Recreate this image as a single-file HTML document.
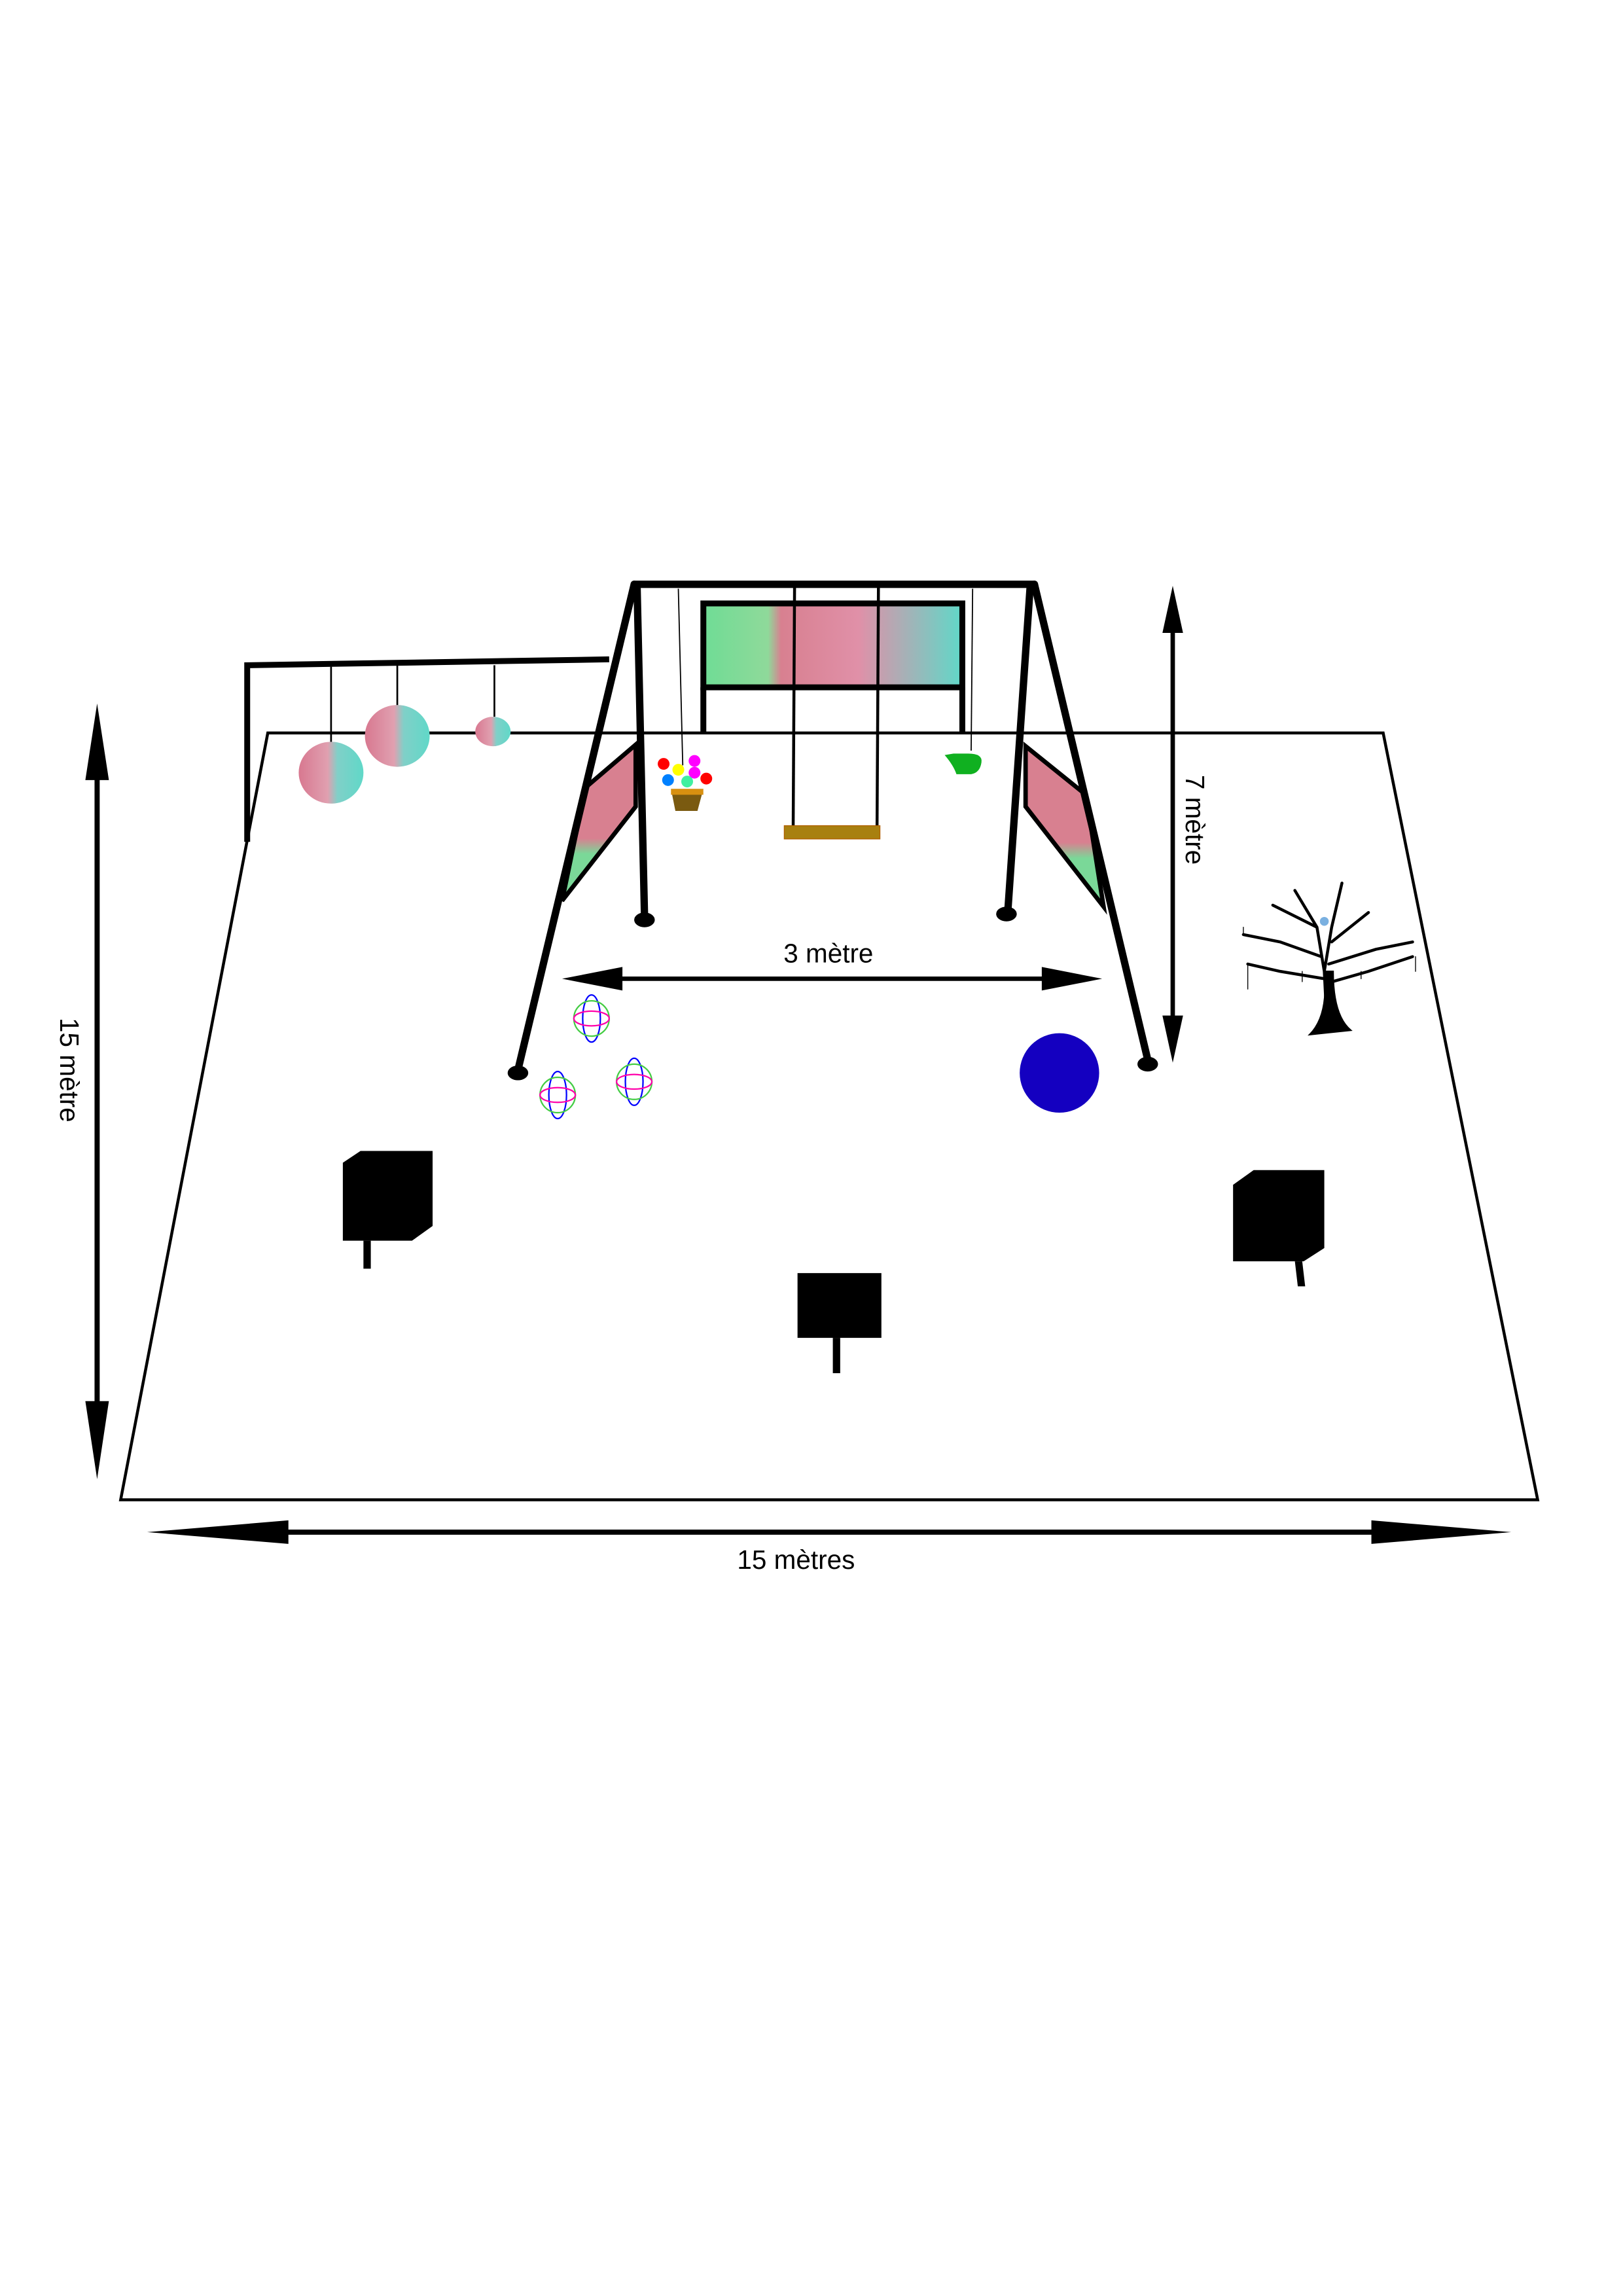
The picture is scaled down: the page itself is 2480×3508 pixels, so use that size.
<!DOCTYPE html>
<html><head><meta charset="utf-8"><style>html,body{margin:0;padding:0;background:#fff}svg{display:block}</style></head>
<body>
<svg width="2480" height="3508" viewBox="0 0 1103 1560" preserveAspectRatio="none" xmlns="http://www.w3.org/2000/svg" font-family="Liberation Sans, sans-serif">
<defs>
<linearGradient id="g1" x1="0" y1="0" x2="1" y2="0"><stop offset="0" stop-color="#6fdc95"/><stop offset="0.25" stop-color="#8fd99a"/><stop offset="0.3" stop-color="#d88090"/><stop offset="0.6" stop-color="#e090a8"/><stop offset="1" stop-color="#60d8c8"/></linearGradient>
<linearGradient id="g2" x1="0" y1="0" x2="1" y2="0"><stop offset="0" stop-color="#d87890"/><stop offset="0.45" stop-color="#e0a0b0"/><stop offset="0.6" stop-color="#80d0c8"/><stop offset="1" stop-color="#60d8c8"/></linearGradient>
<linearGradient id="g3" x1="0" y1="0" x2="0" y2="1"><stop offset="0" stop-color="#d88090"/><stop offset="0.6" stop-color="#d88090"/><stop offset="0.7" stop-color="#7ad898"/><stop offset="1" stop-color="#7ad898"/></linearGradient>
</defs>
<polygon points="182,498 940,498 1045,1019 82,1019" fill="none" stroke="#000" stroke-width="2"/>
<path d="M168,572 L168,452 L414,448" fill="none" stroke="#000" stroke-width="4"/>
<g stroke="#000" stroke-width="1.2"><line x1="225" y1="453" x2="225" y2="505"/><line x1="270" y1="452" x2="270" y2="480"/><line x1="336" y1="452" x2="336" y2="487"/></g>
<ellipse cx="225" cy="525" rx="22" ry="21" fill="url(#g2)"/>
<ellipse cx="270" cy="500" rx="22" ry="21" fill="url(#g2)"/>
<ellipse cx="335" cy="497" rx="12" ry="10" fill="url(#g2)"/>
<rect x="478" y="410" width="176" height="57" fill="url(#g1)" stroke="#000" stroke-width="4"/>
<line x1="478" y1="467" x2="478" y2="498" stroke="#000" stroke-width="4"/>
<line x1="654" y1="467" x2="654" y2="498" stroke="#000" stroke-width="4"/>
<polygon points="432,506 432,548 382,612 398,535" fill="url(#g3)" stroke="#000" stroke-width="3"/>
<polygon points="697,507 697,548 750,616 738,540" fill="url(#g3)" stroke="#000" stroke-width="3"/>
<g stroke="#000" stroke-width="5" stroke-linecap="round" fill="none">
<line x1="431" y1="397" x2="703" y2="397"/>
<line x1="431" y1="397" x2="352" y2="727"/>
<line x1="433" y1="400" x2="438" y2="622"/>
<line x1="700" y1="400" x2="685" y2="618"/>
<line x1="703" y1="397" x2="780" y2="720"/>
</g>
<g fill="#000"><ellipse cx="352" cy="729" rx="7" ry="5"/><ellipse cx="438" cy="625" rx="7" ry="5"/><ellipse cx="684" cy="621" rx="7" ry="5"/><ellipse cx="780" cy="723" rx="7" ry="5"/></g>
<g stroke="#000" stroke-width="2"><line x1="540" y1="397" x2="539" y2="570"/><line x1="597" y1="397" x2="596" y2="570"/></g>
<g stroke="#000" stroke-width="0.8"><line x1="461" y1="400" x2="464" y2="520"/><line x1="661" y1="400" x2="660" y2="510"/></g>
<rect x="533" y="561" width="65" height="9" fill="#a88010" stroke="#b06000" stroke-width="0.6"/>
<polygon points="456,536 478,536 474,551 459,551" fill="#7a5a10"/><rect x="456" y="536" width="22" height="4" fill="#d89010"/>
<circle cx="451" cy="519" r="4" fill="#f00"/><circle cx="461" cy="523" r="4" fill="#ff0"/><circle cx="472" cy="517" r="4" fill="#f0f"/><circle cx="472" cy="525" r="4" fill="#f0f"/><circle cx="480" cy="529" r="4" fill="#f00"/><circle cx="454" cy="530" r="4" fill="#0080ff"/><circle cx="467" cy="531" r="4" fill="#40f0a0"/>
<path d="M648,512 L658,512 Q668,512 667,518 Q666,525 660,526 L650,526 Q648,520 642,513 Z" fill="#10b020"/>
<!-- 3 metre -->
<line x1="410" y1="665" x2="720" y2="665" stroke="#000" stroke-width="3"/>
<polygon points="382,665 423,657 423,673" fill="#000"/><polygon points="749,665 708,657 708,673" fill="#000"/>
<text x="563" y="654" font-size="18" text-anchor="middle">3 mètre</text>
<!-- 7 metre -->
<line x1="797" y1="420" x2="797" y2="700" stroke="#000" stroke-width="3"/>
<polygon points="797,398 790,430 804,430" fill="#000"/><polygon points="797,722 790,690 804,690" fill="#000"/>
<text transform="translate(806,557) rotate(90)" font-size="18" text-anchor="middle">7 mètre</text>
<!-- 15 metre left -->
<line x1="66" y1="510" x2="66" y2="970" stroke="#000" stroke-width="3.5"/>
<polygon points="66,478 58,530 74,530" fill="#000"/><polygon points="66,1005 58,952 74,952" fill="#000"/>
<text transform="translate(41,727) rotate(90)" font-size="18" text-anchor="middle">15 mètre</text>
<!-- bottom -->
<line x1="150" y1="1041" x2="980" y2="1041" stroke="#000" stroke-width="3.5"/>
<polygon points="100,1041 196,1033 196,1049" fill="#000"/><polygon points="1027,1041 932,1033 932,1049" fill="#000"/>
<text x="541" y="1066" font-size="18" text-anchor="middle">15 mètres</text>
<circle cx="720" cy="729" r="27" fill="#1400c0"/>
<g fill="none" stroke-width="1">
<g transform="translate(402,692)"><ellipse rx="6" ry="16" stroke="#00f"/><ellipse rx="12" ry="12" stroke="#4c4"/><ellipse rx="12" ry="5" stroke="#f0a"/></g>
<g transform="translate(379,744)"><ellipse rx="6" ry="16" stroke="#00f"/><ellipse rx="12" ry="12" stroke="#4c4"/><ellipse rx="12" ry="5" stroke="#f0a"/></g>
<g transform="translate(431,735)"><ellipse rx="6" ry="16" stroke="#00f"/><ellipse rx="12" ry="12" stroke="#4c4"/><ellipse rx="12" ry="5" stroke="#f0a"/></g>
</g>
<polygon points="233,790 245,782 294,782 294,833 280,843 233,843" fill="#000"/><rect x="247" y="843" width="5" height="19" fill="#000"/>
<rect x="542" y="865" width="57" height="44" fill="#000"/><rect x="566" y="909" width="5" height="24" fill="#000"/>
<polygon points="838,805 852,795 900,795 900,848 886,857 838,857" fill="#000"/><polygon points="880,857 885,857 887,874 882,874" fill="#000"/>
<g stroke="#000" fill="none" stroke-linecap="round">
<path d="M902,700 L900,660 L895,630 L880,605 M900,660 L905,630 L912,600 M895,630 L865,615 M905,640 L930,620 M898,650 L870,640 L845,635 M903,655 L935,645 L960,640 M900,665 L870,660 L848,655 M902,668 L930,660 L960,650" stroke-width="2"/>
<path d="M890,703 Q903,690 900,660 L906,660 Q906,690 918,700 Z" fill="#000" stroke-width="1"/>
<g stroke-width="0.6"><line x1="848" y1="655" x2="848" y2="672"/><line x1="885" y1="660" x2="885" y2="667"/><line x1="925" y1="660" x2="925" y2="665"/><line x1="962" y1="650" x2="962" y2="660"/><line x1="845" y1="635" x2="845" y2="630"/></g>
</g>
<circle cx="900" cy="626" r="3" fill="#7ab0e0"/>
</svg>
</body></html>
